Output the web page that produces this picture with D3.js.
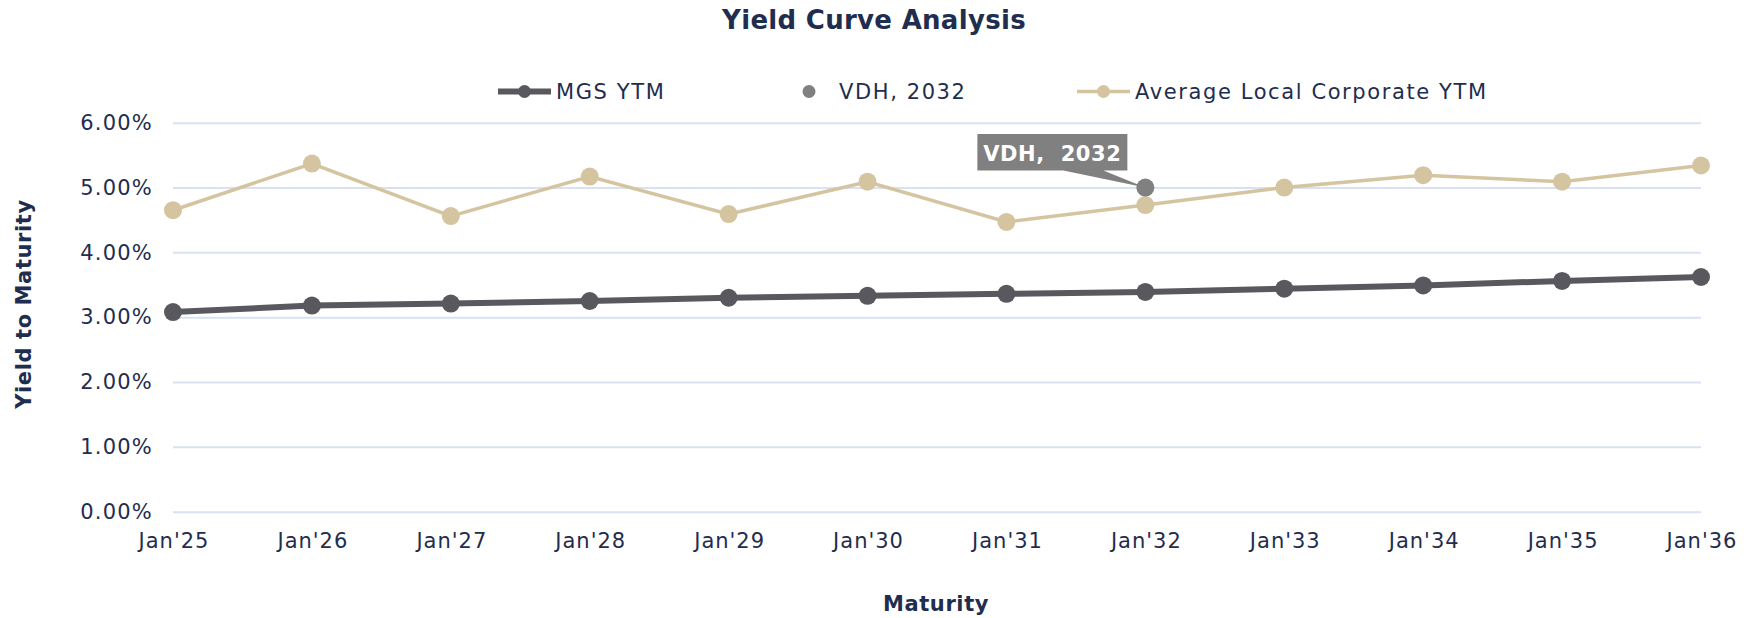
<!DOCTYPE html>
<html>
<head>
<meta charset="utf-8">
<script src="https://cdn.jsdelivr.net/npm/d3@7"></script>
<style>
  body { margin: 0; background: #fff; }
  text { font-family: "DejaVu Sans", sans-serif; }
</style>
</head>
<body>
<script>
const maturities = ["Jan'25", "Jan'26", "Jan'27", "Jan'28", "Jan'29", "Jan'30", "Jan'31", "Jan'32", "Jan'33", "Jan'34", "Jan'35", "Jan'36"];
const mgsYtm = [3.08, 3.18, 3.21, 3.25, 3.30, 3.33, 3.36, 3.39, 3.44, 3.49, 3.56, 3.62];
const corpYtm = [4.65, 5.37, 4.56, 5.17, 4.59, 5.09, 4.47, 4.73, 5.00, 5.19, 5.09, 5.34];
const vdhPoint = { maturity: "Jan'32", value: 5.00, label: "VDH,  2032" };
const yTicks = [0, 1, 2, 3, 4, 5, 6];

const navy = "#1f2d4e";
const width = 1750, height = 618;
const margin = { top: 122.7, right: 49, bottom: 106.3, left: 173 };

const svg = d3.select("body").append("svg")
  .attr("width", width)
  .attr("height", height);

const x = d3.scalePoint()
  .domain(maturities)
  .range([margin.left, width - margin.right]);

const y = d3.scaleLinear()
  .domain([0, 6])
  .range([height - margin.bottom, margin.top]);

// gridlines + y labels
const yAxis = svg.append("g")
  .attr("transform", `translate(${margin.left},0)`)
  .call(d3.axisLeft(y).tickValues(yTicks)
    .tickSize(-(width - margin.left - margin.right))
    .tickPadding(20)
    .tickFormat(d => d.toFixed(2) + "%"));
yAxis.select(".domain").remove();
yAxis.selectAll("line").attr("stroke", "#d9e1f2").attr("stroke-width", 2);
yAxis.selectAll("text").attr("fill", navy).attr("font-size", 21).attr("letter-spacing", 1.2);

// x labels
const xAxis = svg.append("g")
  .attr("transform", `translate(0,${height - margin.bottom})`)
  .call(d3.axisBottom(x).tickSize(0).tickPadding(21));
xAxis.select(".domain").remove();
xAxis.selectAll("text").attr("fill", navy).attr("font-size", 21)
  .attr("letter-spacing", 1.0).attr("dx", 0.5);

// lines
const line = d3.line()
  .x((d, i) => x(maturities[i]))
  .y(d => y(d));

svg.append("path")
  .datum(corpYtm)
  .attr("fill", "none")
  .attr("stroke", "#d4c4a0")
  .attr("stroke-width", 3.5)
  .attr("d", line);

svg.append("g").selectAll("circle")
  .data(corpYtm)
  .enter().append("circle")
  .attr("cx", (d, i) => x(maturities[i]))
  .attr("cy", d => y(d))
  .attr("r", 9)
  .attr("fill", "#d4c4a0");

svg.append("path")
  .datum(mgsYtm)
  .attr("fill", "none")
  .attr("stroke", "#58585e")
  .attr("stroke-width", 6)
  .attr("d", line);

svg.append("g").selectAll("circle")
  .data(mgsYtm)
  .enter().append("circle")
  .attr("cx", (d, i) => x(maturities[i]))
  .attr("cy", d => y(d))
  .attr("r", 9)
  .attr("fill", "#58585e");

// VDH point and callout
const vx = x(vdhPoint.maturity), vy = y(vdhPoint.value);
const boxL = vx - 168, boxR = vx - 18, boxT = vy - 53.5, boxB = vy - 17;
svg.append("path")
  .attr("d", `M${boxL},${boxT}H${boxR}V${boxB}H${vx - 42}L${vx},${vy}L${vx - 82},${boxB}H${boxL}Z`)
  .attr("fill", "#808080");
svg.append("text")
  .attr("x", (boxL + boxR) / 2)
  .attr("y", boxB - 10)
  .attr("text-anchor", "middle")
  .attr("fill", "#fff")
  .attr("font-weight", "bold")
  .attr("font-size", 21)
  .attr("letter-spacing", 0.6)
  .attr("xml:space", "preserve")
  .text(vdhPoint.label);
svg.append("circle")
  .attr("cx", vx).attr("cy", vy).attr("r", 9)
  .attr("fill", "#808080");

// title and axis titles
svg.append("text")
  .attr("x", 874).attr("y", 29)
  .attr("text-anchor", "middle")
  .attr("fill", navy).attr("font-weight", "bold").attr("font-size", 26)
  .attr("letter-spacing", 0.3)
  .text("Yield Curve Analysis");

svg.append("text")
  .attr("transform", "translate(31,304) rotate(-90)")
  .attr("text-anchor", "middle")
  .attr("fill", navy).attr("font-weight", "bold").attr("font-size", 21)
  .attr("letter-spacing", 0.6)
  .text("Yield to Maturity");

svg.append("text")
  .attr("x", 936).attr("y", 611)
  .attr("text-anchor", "middle")
  .attr("fill", navy).attr("font-weight", "bold").attr("font-size", 21)
  .attr("letter-spacing", 0.6)
  .text("Maturity");

// legend
const legend = [
  { name: "MGS YTM", color: "#58585e", lx: 498, tx: 556, line: true, w: 6 },
  { name: "VDH, 2032", color: "#808080", lx: 809, tx: 839, line: false },
  { name: "Average Local Corporate YTM", color: "#d4c4a0", lx: 1077, tx: 1135, line: true, w: 3.5 }
];
const lg = svg.append("g").selectAll("g").data(legend).enter().append("g");
lg.filter(d => d.line).append("line")
  .attr("x1", d => d.lx).attr("x2", d => d.lx + 53)
  .attr("y1", 91.5).attr("y2", 91.5)
  .attr("stroke", d => d.color).attr("stroke-width", d => d.w);
lg.append("circle")
  .attr("cx", d => d.line ? d.lx + 26.5 : d.lx)
  .attr("cy", 91.5).attr("r", 6.5)
  .attr("fill", d => d.color);
lg.append("text")
  .attr("x", d => d.tx).attr("y", 91.5)
  .attr("dy", "0.35em")
  .attr("fill", navy).attr("font-size", 21)
  .attr("letter-spacing", 1.6)
  .text(d => d.name);
</script>
</body>
</html>
